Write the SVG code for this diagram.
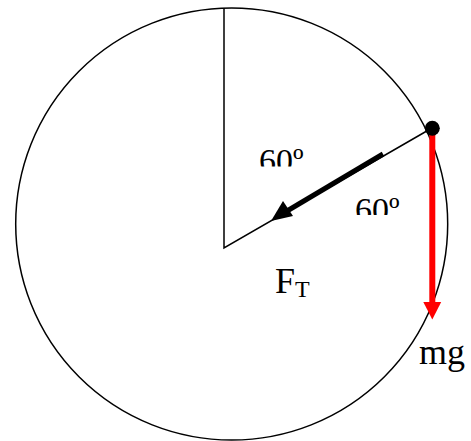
<svg xmlns="http://www.w3.org/2000/svg" width="471" height="441" viewBox="0 0 471 441">
<defs>
<style>
.ln{stroke:#000;stroke-width:1.5;fill:none}
.t{font-family:"Liberation Serif","Times New Roman",serif;fill:#000}
</style>
<clipPath id="c1"><rect x="250" y="130" width="70" height="36.5"/></clipPath>
<clipPath id="c2"><rect x="345" y="180" width="70" height="35"/></clipPath>
</defs>
<rect width="471" height="441" fill="#fff"/>
<g id="circle"><circle class="ln" cx="231.7" cy="224" r="216"/></g>
<g id="radii">
<polyline class="ln" points="224,8.3 224,248 432,128"/>
</g>
<g id="connectors">
<g id="tension">
<line x1="383" y1="154" x2="287" y2="211" stroke="#000" stroke-width="5"/>
<polygon points="271,221 283,201 293,216" fill="#000"/>
</g>
<g id="gravity">
<line x1="432.3" y1="128" x2="432.3" y2="304" stroke="#f00" stroke-width="6"/>
<polygon points="423.3,302 441.2,302 432.3,319.5" fill="#f00"/>
</g>
</g>
<g id="mass"><circle cx="432.3" cy="128.3" r="7.5" fill="#000"/></g>
<g id="labels">
<text class="t" x="259" y="172" font-size="34" clip-path="url(#c1)">60º</text>
<text class="t" x="355" y="221.3" font-size="34" clip-path="url(#c2)">60º</text>
<text class="t" x="275" y="293.3" font-size="36">F<tspan font-size="24" dy="3.5">T</tspan></text>
<text class="t" x="419" y="364" font-size="36">mg</text>
</g>
</svg>
